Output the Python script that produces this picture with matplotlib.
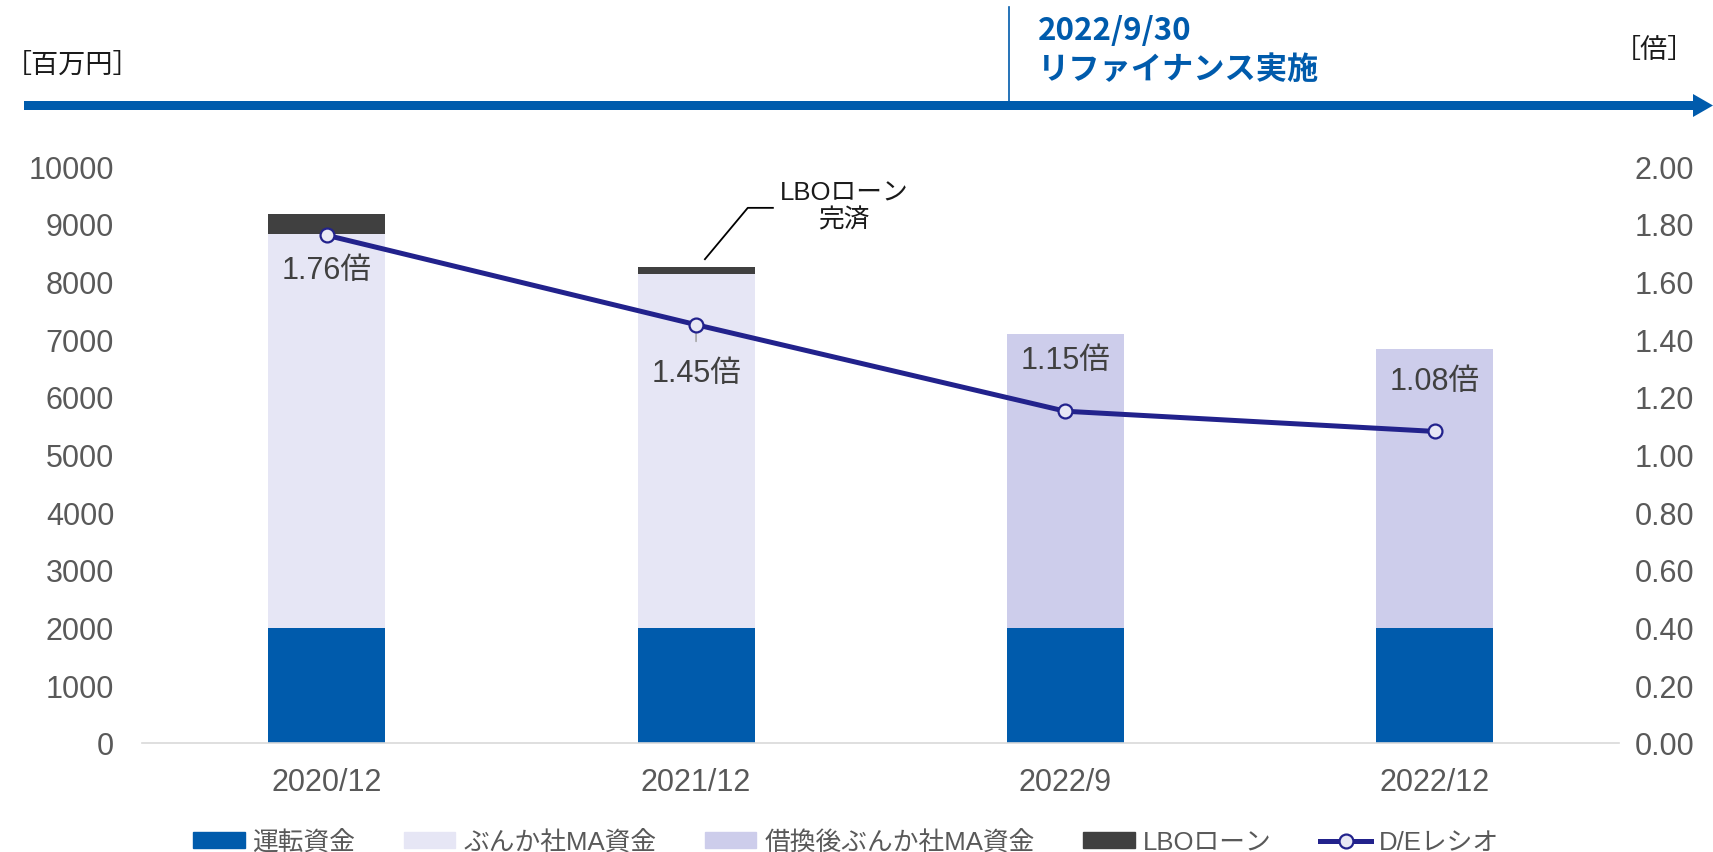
import matplotlib
matplotlib.use('Agg')
import matplotlib.pyplot as plt
import numpy as np
from matplotlib.patches import FancyArrow, Patch
from matplotlib.lines import Line2D

plt.rcParams['font.family'] = ['Liberation Sans', 'Noto Sans CJK JP']

# data (百万円 / 倍)
periods = ['2020/12', '2021/12', '2022/9', '2022/12']
working_capital = [2000, 2000, 2000, 2000]
ma_fund = [6830, 6130, 0, 0]
ma_fund_refi = [0, 0, 5090, 4830]
lbo_loan = [340, 115, 0, 0]
de_ratio = [1.76, 1.45, 1.15, 1.08]
de_offsets = [-25, -35, 37, 36]  # label offset in points

BLUE = '#005BAC'
LIGHT = '#E6E6F5'
REFI = '#CDCDEB'
DARK = '#404040'
NAVY = '#22228C'
TICK = '#595959'

fig = plt.figure(figsize=(17.13, 8.53), dpi=100)
ax = fig.add_axes([0.0829, 0.1278, 0.8625, 0.6764])
ax2 = ax.twinx()

x = np.arange(len(periods))
w = 0.317
b1 = np.array(working_capital)
b2 = b1 + np.array(ma_fund)
b3 = b2 + np.array(ma_fund_refi)
ax.bar(x, working_capital, w, color=BLUE, zorder=2)
ax.bar(x, ma_fund, w, bottom=b1, color=LIGHT, zorder=2)
ax.bar(x, ma_fund_refi, w, bottom=b2, color=REFI, zorder=2)
ax.bar(x, lbo_loan, w, bottom=b3, color=DARK, zorder=2)

ax.set_xlim(-0.5, 3.5)
ax.set_ylim(0, 10000)
ax.set_yticks(np.arange(0, 10001, 1000))
ax.set_xticks(x)
ax.set_xticklabels(periods)
ax.tick_params(axis='y', length=0, pad=20, labelsize=22, labelcolor=TICK)
ax.tick_params(axis='x', length=0, pad=17, labelsize=22, labelcolor=TICK)
for s in ['top', 'left', 'right']:
    ax.spines[s].set_visible(False)
    ax2.spines[s].set_visible(False)
ax.spines['bottom'].set_color('#D9D9D9')
ax.spines['bottom'].set_linewidth(1.2)
ax2.spines['bottom'].set_visible(False)

# D/E ratio line on the right axis
ax2.plot(x, de_ratio, color=NAVY, lw=3.6, marker='o', markersize=10,
         markerfacecolor='#E8E8F5', markeredgecolor=NAVY, markeredgewidth=1.6, zorder=5)
ax2.set_ylim(0, 2.0)
ax2.set_yticks(np.arange(0, 2.01, 0.2))
ax2.set_yticklabels([f'{v:.2f}' for v in np.arange(0, 2.01, 0.2)])
ax2.tick_params(axis='y', length=0, pad=11, labelsize=22, labelcolor=TICK)

for i, (v, off) in enumerate(zip(de_ratio, de_offsets)):
    ax2.annotate(f'{v:.2f}倍', xy=(i, v), xytext=(0, off), textcoords='offset points',
                 ha='center', va='center', fontsize=22, color=DARK, zorder=6)
# short leader under the 2021/12 point
ax2.annotate('', xy=(1, de_ratio[1]), xytext=(0, -12), textcoords='offset points',
             arrowprops=dict(arrowstyle='-', color='#A6A6A6', lw=1.2, shrinkA=0, shrinkB=0))

# LBO loan repaid callout
lbo_top = b3[1] + lbo_loan[1]
ax.plot([1.024, 1.140, 1.208], [lbo_top + 140, 9275, 9275], color='black', lw=1.3, clip_on=False)
ax.text(1.40, 9300, 'LBOローン\n完済', ha='center', va='center', fontsize=18.5,
        color='#1A1A1A', linespacing=1.15)

# header: timeline arrow and refinancing marker
fig.add_artist(FancyArrow(0.24, 7.465, 16.89, 0, width=0.09, head_width=0.23, head_length=0.2,
                          length_includes_head=True, color=BLUE, lw=0,
                          transform=fig.dpi_scale_trans))
fig.add_artist(Line2D([0.5893, 0.5893], [0.8757, 0.9906], color=BLUE, lw=1.2))
fig.text(0.606, 0.9637, '2022/9/30', ha='left', va='center', fontsize=22.5,
         fontweight='bold', color=BLUE, family=['Noto Sans CJK JP'])
fig.text(0.606, 0.918, 'リファイナンス実施', ha='left', va='center', fontsize=22.5,
         fontweight='bold', color=BLUE, family=['Noto Sans CJK JP'])
fig.text(0.003, 0.924, '［百万円］', ha='left', va='center', fontsize=19.5, color='#1A1A1A',
         family=['Noto Sans CJK JP'])
fig.text(0.966, 0.941, '［倍］', ha='center', va='center', fontsize=19.5, color='#1A1A1A',
         family=['Noto Sans CJK JP'])

handles = [Patch(color=BLUE), Patch(color=LIGHT), Patch(color=REFI), Patch(color=DARK),
           Line2D([], [], color=NAVY, lw=3.6, marker='o', markersize=10,
                  markerfacecolor='#E8E8F5', markeredgecolor=NAVY, markeredgewidth=1.6)]
labels = ['運転資金', 'ぶんか社MA資金', '借換後ぶんか社MA資金', 'LBOローン', 'D/Eレシオ']
leg = fig.legend(handles, labels, loc='center', bbox_to_anchor=(0.494, 0.0115), ncol=5,
                 frameon=False, fontsize=18.5, handlelength=2.0, handleheight=0.55,
                 handletextpad=0.3, columnspacing=1.9, borderpad=0, borderaxespad=0)
for t in leg.get_texts():
    t.set_color(TICK)

fig.savefig('out.png', dpi=100)
plt.close(fig)
